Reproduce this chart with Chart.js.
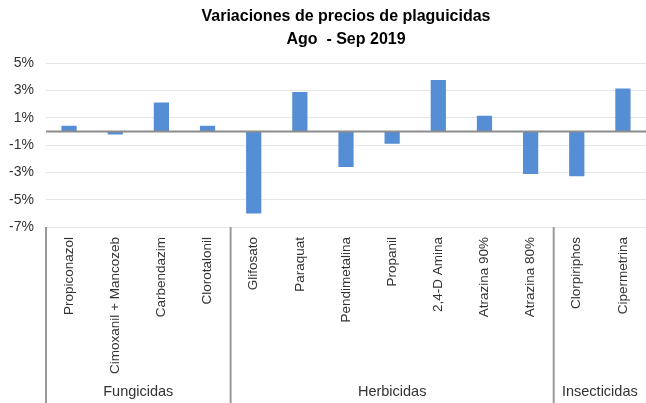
<!DOCTYPE html>
<html>
<head>
<meta charset="utf-8">
<script src="https://cdn.jsdelivr.net/npm/chart.js@4"></script>
<style>
  html, body { margin: 0; padding: 0; background: #fff; }
  #wrap { width: 646px; height: 403px; position: relative; }
</style>
</head>
<body>
<div id="wrap"><canvas id="chart"></canvas></div>
<script>
// Variaciones de precios de plaguicidas, Ago - Sep 2019 (valores en %)
const categories = [
  "Propiconazol", "Cimoxanil + Mancozeb", "Carbendazim", "Clorotalonil",
  "Glifosato", "Paraquat", "Pendimetalina", "Propanil", "2,4-D Amina",
  "Atrazina 90%", "Atrazina 80%",
  "Clorpiriphos", "Cipermetrina",
];
const variations = [0.42, -0.22, 2.12, 0.42, -6.02, 2.88, -2.61, -0.9, 3.76, 1.15, -3.12, -3.29, 3.15];
const groupNames = ["Fungicidas", "Herbicidas", "Insecticidas"];
const groupSizes = [4, 7, 2];
const titleLines = ["Variaciones de precios de plaguicidas", "Ago  - Sep 2019"];

const FONT = "'Liberation Sans', Arial, sans-serif";
const TEXT = "#333333";

// zero axis line + grouped category axis under the rotated labels
const GroupAxis = {
  id: "groupAxis",
  afterDatasetsDraw(chart) {
    const { ctx, chartArea, scales } = chart;
    const y0 = scales.y.getPixelForValue(0);
    ctx.save();
    ctx.strokeStyle = "#8c8c8c";
    ctx.lineWidth = 2;
    ctx.beginPath();
    ctx.moveTo(chartArea.left, y0);
    ctx.lineTo(chartArea.right, y0);
    ctx.stroke();
    ctx.restore();
  },
  afterDraw(chart) {
    const { ctx, chartArea, scales, height } = chart;
    const x = scales.x;
    const half = (x.getPixelForValue(1) - x.getPixelForValue(0)) / 2;
    ctx.save();
    ctx.strokeStyle = "#999999";
    ctx.lineWidth = 2;
    ctx.fillStyle = TEXT;
    ctx.font = `14.5px ${FONT}`;
    ctx.textAlign = "center";
    ctx.textBaseline = "middle";
    let start = 0;
    groupSizes.forEach((n, i) => {
      const left = x.getPixelForValue(start) - half;
      const right = x.getPixelForValue(start + n - 1) + half;
      ctx.beginPath();
      ctx.moveTo(left, chartArea.bottom);
      ctx.lineTo(left, height);
      ctx.stroke();
      ctx.fillText(groupNames[i], (left + right) / 2, height - 11);
      start += n;
    });
    ctx.restore();
  },
};

new Chart(document.getElementById("chart"), {
  type: "bar",
  data: {
    labels: categories,
    datasets: [{
      data: variations,
      backgroundColor: "#558ed5",
      barPercentage: 0.33,
      categoryPercentage: 1,
    }],
  },
  plugins: [GroupAxis],
  options: {
    responsive: true,
    maintainAspectRatio: false,
    animation: false,
    layout: { padding: 0 },
    plugins: {
      legend: { display: false },
      tooltip: { enabled: false },
      title: {
        display: true,
        text: titleLines,
        fullSize: false,
        color: "#000",
        font: { family: FONT, size: 16, weight: "bold", lineHeight: 1.38 },
        padding: { top: 6, bottom: 13 },
      },
    },
    scales: {
      x: {
        grid: { display: false },
        border: { display: false },
        ticks: {
          color: TEXT,
          font: { family: FONT, size: 13.5 },
          minRotation: 90,
          maxRotation: 90,
          autoSkip: false,
          padding: 2,
        },
        afterFit: (s) => { s.height = 176; },
      },
      y: {
        min: -7,
        max: 5,
        border: { display: false },
        grid: { color: "#e6e6e6", drawTicks: false },
        ticks: {
          stepSize: 2,
          color: TEXT,
          font: { family: FONT, size: 14 },
          padding: 12,
          callback: (v) => `${v}%`,
        },
        afterFit: (s) => { s.width = 46; },
      },
    },
  },
});
</script>
</body>
</html>
